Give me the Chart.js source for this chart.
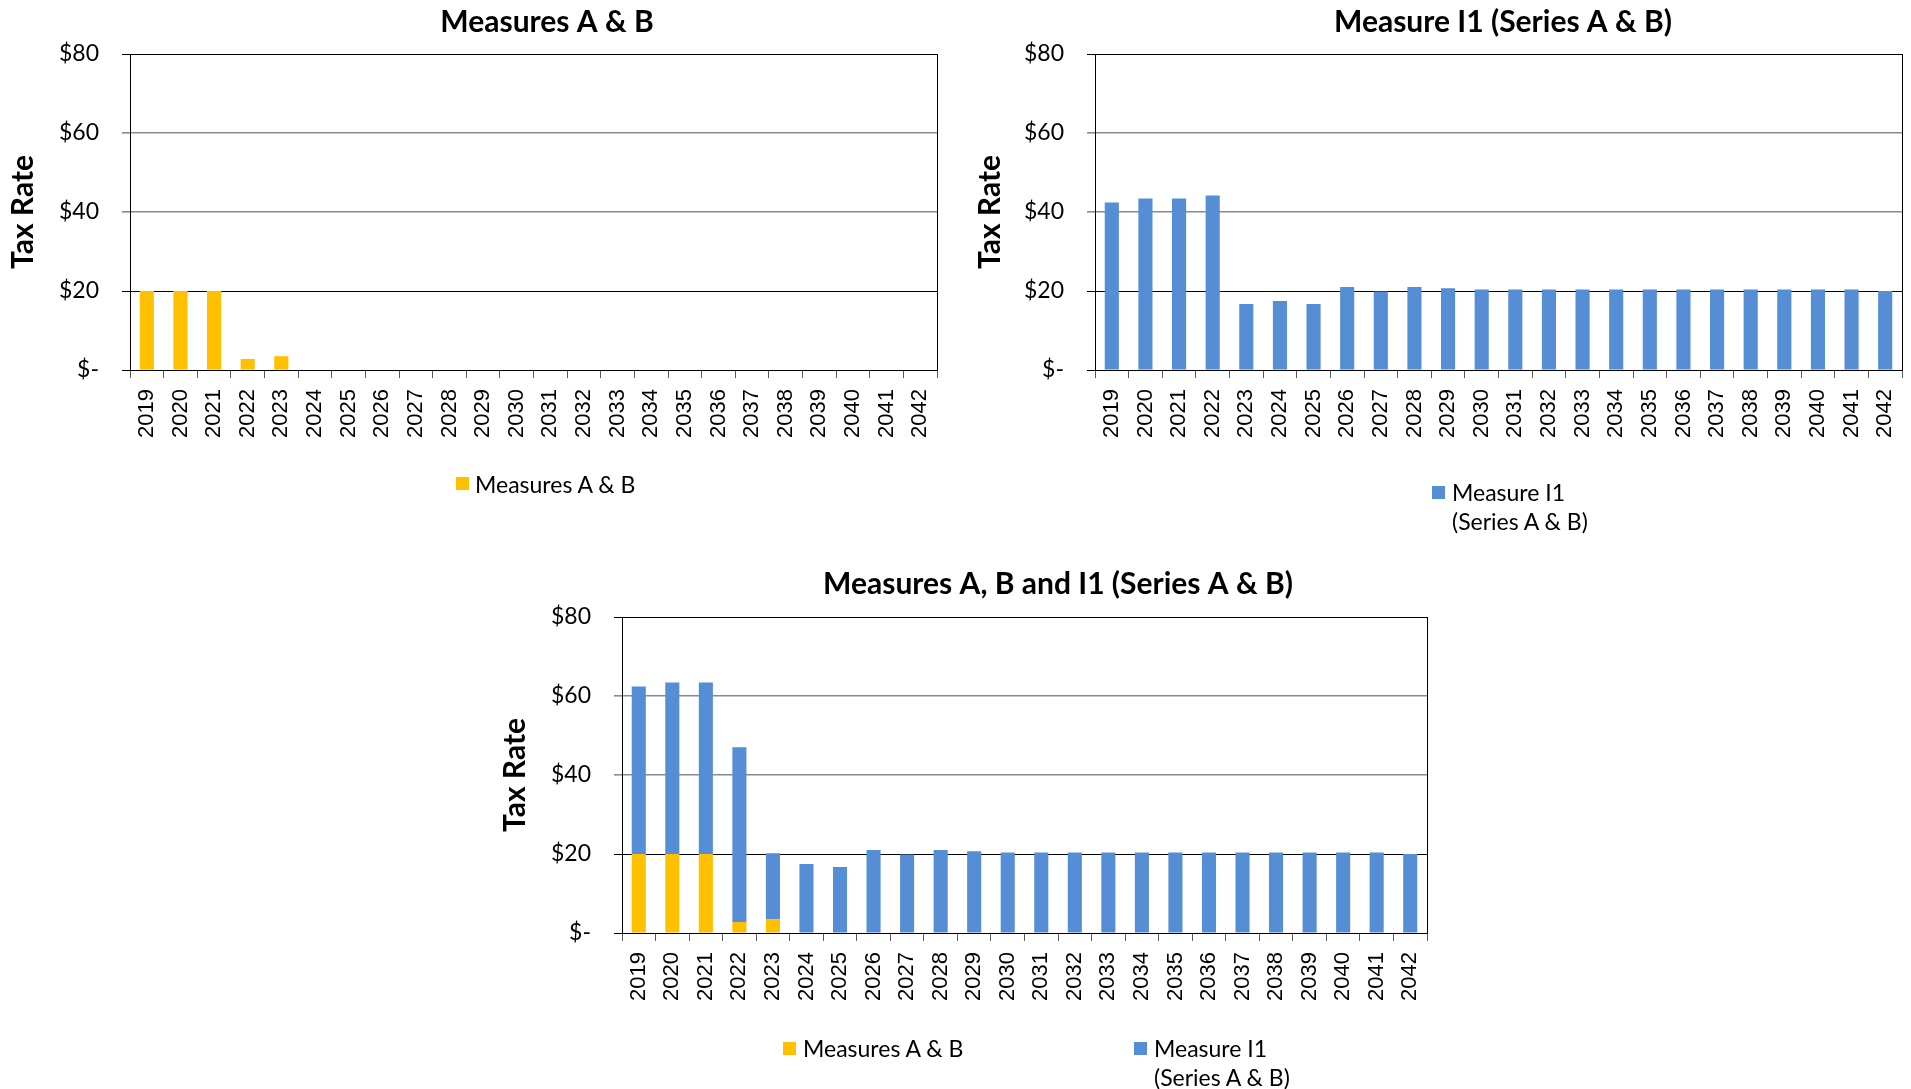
<!DOCTYPE html>
<html><head><meta charset="utf-8">
<script src="https://cdn.jsdelivr.net/npm/chart.js@4/dist/chart.umd.min.js"></script>
<style>
html,body{margin:0;padding:0;background:#fff;overflow:hidden;width:1911px;height:1089px;position:relative;}
canvas{position:absolute;}
.leg{position:absolute;font-family:Lato,sans-serif;font-size:23px;color:#000;line-height:29px;white-space:nowrap;}
.box{position:absolute;width:13px;height:13px;}
</style></head><body>
<canvas id="c1" width="1094" height="540" style="left:0;top:0"></canvas>
<canvas id="c2" width="1086" height="540" style="left:960px;top:0"></canvas>
<canvas id="c3" width="1156" height="544" style="left:480px;top:545px"></canvas>

<div class="box" style="left:456px;top:477px;background:#FFC000"></div>
<div class="leg" style="left:475px;top:470px">Measures A &amp; B</div>

<div class="box" style="left:1432px;top:486px;background:#558ED5"></div>
<div class="leg" style="left:1452px;top:478px">Measure I1<br>(Series A &amp; B)</div>

<div class="box" style="left:783px;top:1042px;background:#FFC000"></div>
<div class="leg" style="left:803px;top:1034px">Measures A &amp; B</div>
<div class="box" style="left:1134px;top:1042px;background:#558ED5"></div>
<div class="leg" style="left:1154px;top:1034px">Measure I1<br>(Series A &amp; B)</div>

<script>
const years = ['2019','2020','2021','2022','2023','2024','2025','2026','2027','2028','2029','2030',
               '2031','2032','2033','2034','2035','2036','2037','2038','2039','2040','2041','2042'];
const measuresAB = [20,20,20,2.8,3.5,0,0,0,0,0,0,0,0,0,0,0,0,0,0,0,0,0,0,0];
const measureI1 = [42.4,43.4,43.4,44.2,16.7,17.5,16.7,21.0,19.9,21.0,20.7,20.4,
                   20.4,20.4,20.4,20.4,20.4,20.4,20.4,20.4,20.4,20.4,20.4,20.0];
const yTickValues = [0,20,40,60,80];
const titles = ['Measures A & B','Measure I1 (Series A & B)','Measures A, B and I1 (Series A & B)'];
const seriesNames = ['Measures A & B','Measure I1 (Series A & B)'];
const yAxisTitle = 'Tax Rate';
const colorAB = '#FFC000';
const colorI1 = '#558ED5';

Chart.defaults.font.family = 'Lato, sans-serif';
Chart.defaults.color = '#000';

function fmt(v){ return v === 0 ? '$-' : '$' + v; }

function makeOptions(c){
  return {
    responsive:false, animation:false, devicePixelRatio:1,
    layout:{padding:{left:0, top:0, right:0, bottom:c.padB}},
    plugins:{
      legend:{display:false},
      tooltip:{enabled:false},
      title:{display:true, text:c.title, color:'#000',
             font:{family:'Lato, sans-serif', size:30, weight:'bold'},
             padding:{top:c.titleTop, bottom:c.titleBottom}}
    },
    scales:{
      x:{
        stacked:c.stacked,
        afterFit:(s)=>{ s.height = 80; },
        grid:{offset:true, drawOnChartArea:true, drawTicks:true, tickLength:8,
              color:(ctx)=> ctx.index === undefined ? '#000' : 'rgba(0,0,0,0)',
              tickColor:'#595959', lineWidth:1},
        border:{display:true, color:'#000', width:1},
        ticks:{autoSkip:false, maxRotation:90, minRotation:90, padding:11, color:'#000',
               font:{family:'"Liberation Sans", Arial, sans-serif', size:22}}
      },
      y:{
        stacked:c.stacked, min:0, max:80,
        afterFit:(s)=>{ s.width = c.yWidth; },
        afterBuildTicks:(s)=>{ s.ticks = yTickValues.map(v=>({value:v})); },
        grid:{drawTicks:true, tickLength:8,
              color:(ctx)=> (ctx.tick && (ctx.tick.value===40 || ctx.tick.value===60)) ? '#8a8a8a' : '#000',
              lineWidth:(ctx)=> (ctx.tick && (ctx.tick.value===40 || ctx.tick.value===60)) ? 1.6 : 1},
        border:{display:true, color:'#000', width:1},
        ticks:{padding:23, color:'#000', font:{family:'Lato, sans-serif', size:23},
               callback:(v)=>fmt(v)},
        title:{display:true, text:yAxisTitle, color:'#000',
               font:{family:'Lato, sans-serif', size:30, weight:'bold'},
               padding:{top:c.yTitlePad, bottom:0}}
      },
      ySpace:{
        position:'right', display:true,
        afterFit:(s)=>{ s.width = c.rightSpace; },
        grid:{display:false, drawTicks:false},
        border:{display:false},
        ticks:{display:false}
      }
    }
  };
}

const bar = {categoryPercentage:1.0, barPercentage:0.42, borderWidth:0};

new Chart(document.getElementById('c1'), {
  type:'bar',
  data:{labels:years, datasets:[Object.assign({label:seriesNames[0], data:measuresAB, backgroundColor:colorAB}, bar)]},
  options:makeOptions({title:titles[0], stacked:false, yWidth:130, rightSpace:157, padB:90, titleTop:4, titleBottom:14, yTitlePad:5})
});

new Chart(document.getElementById('c2'), {
  type:'bar',
  data:{labels:years, datasets:[Object.assign({label:seriesNames[1], data:measureI1, backgroundColor:colorI1}, bar)]},
  options:makeOptions({title:titles[1], stacked:false, yWidth:135, rightSpace:144, padB:90, titleTop:4, titleBottom:14, yTitlePad:12})
});

new Chart(document.getElementById('c3'), {
  type:'bar',
  data:{labels:years, datasets:[
    Object.assign({label:seriesNames[0], data:measuresAB, backgroundColor:colorAB}, bar),
    Object.assign({label:seriesNames[1], data:measureI1, backgroundColor:colorI1}, bar)
  ]},
  options:makeOptions({title:titles[2], stacked:true, yWidth:142, rightSpace:209, padB:76, titleTop:21, titleBottom:15, yTitlePad:17})
});
</script>
</body></html>
